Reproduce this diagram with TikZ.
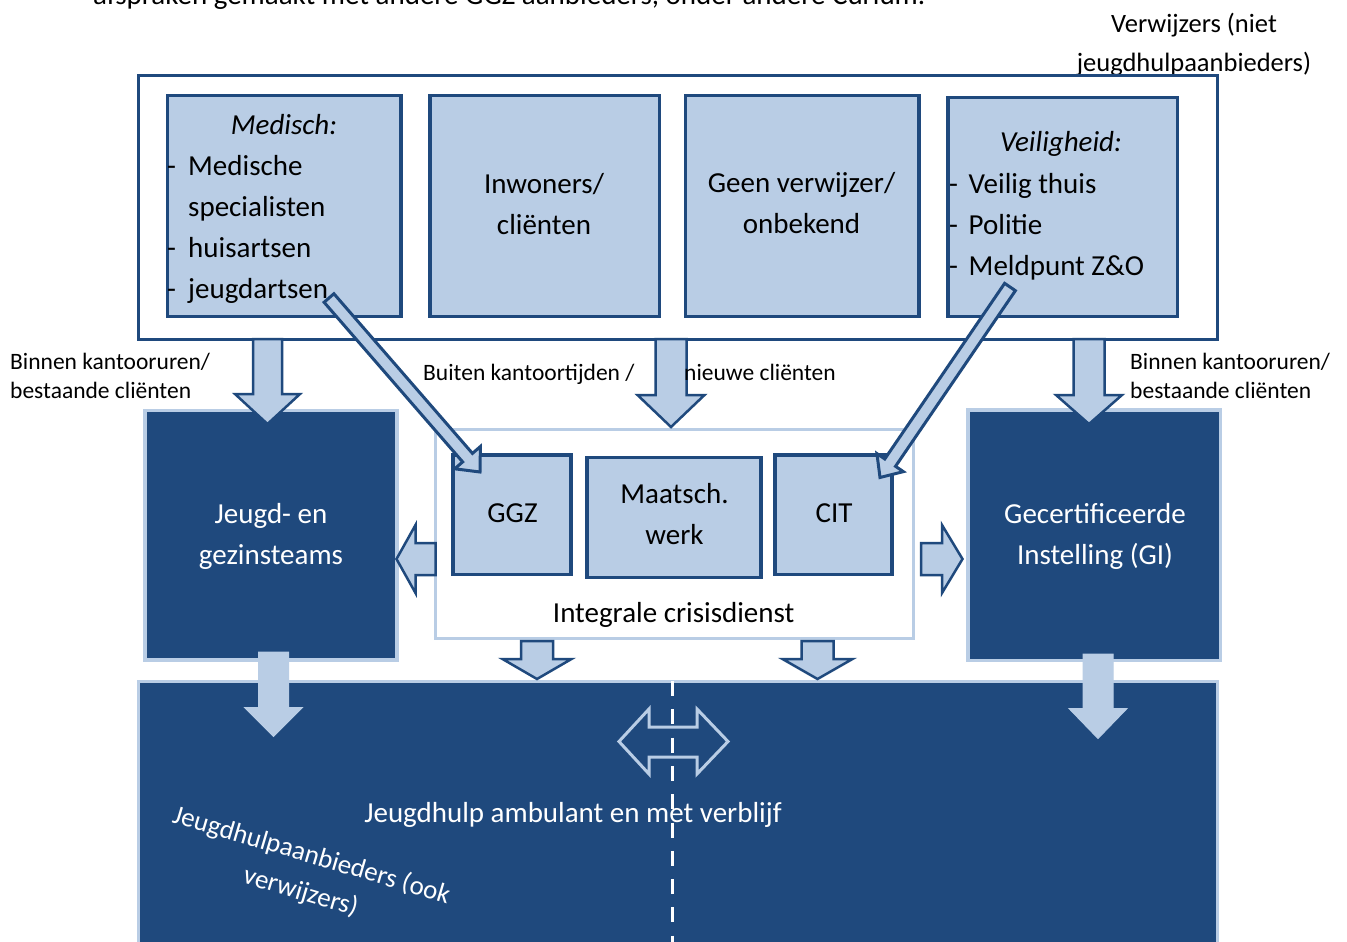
\documentclass[tikz,border=0pt]{standalone}
\usepackage{fontspec}
\setmainfont{Carlito}
\usetikzlibrary{calc}
\definecolor{dkb}{HTML}{1F497D}
\definecolor{ltb}{HTML}{B9CDE5}
% block arrow: #1 style, #2 start, #3 tip, #4 shaft half width, #5 head half width, #6 head length
\newcommand\blkarrow[6]{%
  \coordinate (hb) at ($(#3)!#6!(#2)$);
  \draw[#1] ($(#2)!#4!90:(#3)$) -- ($(hb)!#4!90:(#3)$) -- ($(hb)!#5!90:(#3)$) -- (#3)
    -- ($(hb)!#5!-90:(#3)$) -- ($(hb)!#4!-90:(#3)$) -- ($(#2)!#4!-90:(#3)$) -- cycle;
}
\tikzset{
  lightbox/.style={draw=dkb, fill=ltb, line width=3.5pt, inner sep=0pt},
  darkbox/.style={draw=ltb, fill=dkb, line width=3.5pt, inner sep=0pt},
  frame/.style={draw=dkb, fill=white, line width=3pt, inner sep=0pt},
  crisisframe/.style={draw=ltb, fill=white, line width=3pt, inner sep=0pt},
  blk/.style={fill=ltb, draw=dkb, line width=2.5pt, line join=miter},
  blkflat/.style={fill=ltb, draw=ltb, line width=1pt, line join=miter},
  diag/.style={fill=ltb, draw=dkb, line width=3pt, line join=miter},
  big/.style={font=\fontsize{29}{41}\selectfont, inner sep=0pt, anchor=base},
  bigw/.style={big, text=white},
  small/.style={font=\fontsize{23.5}{29}\selectfont, inner sep=0pt, anchor=base west},
  mid/.style={font=\fontsize{26.5}{38}\selectfont, inner sep=0pt, anchor=base},
}
\begin{document}
\begin{tikzpicture}[x=1pt,y=-1pt]
\useasboundingbox (0,0) rectangle (1347,942);
\clip (0,0) rectangle (1347,942);
\fill[white] (0,0) rectangle (1347,942);

% cut-off text at top
\node[big, anchor=base west] (toptxt) at (93,4.5) {afspraken gemaakt met andere GGZ aanbieders, onder andere Curium.};

% referrers label
\node[mid] (verw1) at (1194,33) {Verwijzers (niet};
\node[mid] (verw2) at (1194,71.5) {jeugdhulpaanbieders)};

% top frame and boxes
\node[frame, minimum width=1079.5pt, minimum height=263.5pt] (top) at (677.75,207.25) {};
\node[lightbox, minimum width=233.5pt, minimum height=221pt] (med) at (284.25,206) {};
\node[lightbox, minimum width=229.5pt, minimum height=221pt] (inw) at (544.5,206) {};
\node[lightbox, minimum width=233.5pt, minimum height=221pt] (geen) at (802.25,206) {};
\node[lightbox, minimum width=229.5pt, minimum height=219pt] (veil) at (1062.5,207) {};

% crisis frame and boxes
\node[crisisframe, minimum width=478pt, minimum height=209pt] (crisis) at (674,534) {};
\node[lightbox, minimum width=118pt, minimum height=119.5pt] (ggz) at (511.75,514.5) {};
\node[lightbox, minimum width=173.75pt, minimum height=119.75pt] (maat) at (674.1,517.4) {};
\node[lightbox, minimum width=117pt, minimum height=119.5pt] (cit) at (833.7,514.5) {};

% dark boxes
\node[darkbox, minimum width=252.2pt, minimum height=249.7pt] (jgt) at (270.9,535.1) {};
\node[darkbox, minimum width=252.5pt, minimum height=250.5pt] (gi) at (1094,535) {};
\node[darkbox, line width=3pt, minimum width=1078.7pt, minimum height=278.5pt] (bot) at (677.85,820.75) {};

% arrow coordinates
\coordinate (a1s) at (267.5,339); \coordinate (a1t) at (267.5,424);
\coordinate (a2s) at (671,339);   \coordinate (a2t) at (671,427);
\coordinate (a3s) at (1089,339);  \coordinate (a3t) at (1089,424);
\coordinate (a4s) at (435.5,559); \coordinate (a4t) at (396.5,559);
\coordinate (a5s) at (921,559);   \coordinate (a5t) at (962.5,559);
\coordinate (a6s) at (537,641);   \coordinate (a6t) at (537,679);
\coordinate (a7s) at (817.5,641); \coordinate (a7t) at (817.5,679);
\coordinate (a8s) at (273.5,652); \coordinate (a8t) at (273.5,736.5);
\coordinate (a9s) at (1098,654);  \coordinate (a9t) at (1098,738.5);
\coordinate (d1s) at (329,298);   \coordinate (d1t) at (480,472);
\coordinate (d2s) at (1010,287);  \coordinate (d2t) at (880,477.5);

\blkarrow{blk}{a1s}{a1t}{14.5pt}{32.5pt}{30pt}
\blkarrow{blk}{a2s}{a2t}{15.5pt}{33.5pt}{32pt}
\blkarrow{blk}{a3s}{a3t}{15.5pt}{33pt}{29pt}
\blkarrow{blk}{a4s}{a4t}{16pt}{34pt}{19pt}
\blkarrow{blk}{a5s}{a5t}{16pt}{34pt}{20.5pt}
\blkarrow{blk}{a6s}{a6t}{16pt}{34.5pt}{20pt}
\blkarrow{blk}{a7s}{a7t}{16pt}{35pt}{20pt}
\blkarrow{blkflat}{a8s}{a8t}{15pt}{29pt}{29pt}
\blkarrow{blkflat}{a9s}{a9t}{15pt}{29pt}{30pt}

% double arrow in bottom box
\draw[draw=ltb, fill=dkb, line width=3pt, line join=miter]
  (619,741.5) -- (649,709) -- (649,727) -- (697,727) -- (697,709) -- (728,741.5)
  -- (697,774) -- (697,757) -- (649,757) -- (649,774) -- cycle;
\coordinate (dtop) at (672,681);
\coordinate (dbot) at (672,950);
\draw[white, line width=3pt, dash pattern=on 15pt off 13.3pt] (dtop) -- (dbot);

% diagonal arrows
\blkarrow{diag}{d1s}{d1t}{6.5pt}{17pt}{19pt}
\blkarrow{diag}{d2s}{d2t}{6.5pt}{16pt}{18pt}

% texts in top boxes
\node[big] (med0) at (284,134) {\itshape Medisch:};
\node[big, anchor=base west] (med1d) at (167,175) {-};
\node[big, anchor=base west] (med1) at (188,175) {Medische};
\node[big, anchor=base west] (med2) at (188,216) {specialisten};
\node[big, anchor=base west] (med3d) at (167,257) {-};
\node[big, anchor=base west] (med3) at (188,257) {huisartsen};
\node[big, anchor=base west] (med4d) at (167,298) {-};
\node[big, anchor=base west] (med4) at (188,298) {jeugdartsen};

\node[big] (inw1) at (544,193) {Inwoners/};
\node[big] (inw2) at (544,234) {cliënten};
\node[big] (geen1) at (801.5,192) {Geen verwijzer/};
\node[big] (geen2) at (801.5,233) {onbekend};

\node[big] (veil0) at (1061,151) {\itshape Veiligheid:};
\node[big, anchor=base west] (veil1d) at (949,193) {-};
\node[big, anchor=base west] (veil1) at (968.5,193) {Veilig thuis};
\node[big, anchor=base west] (veil2d) at (949,234) {-};
\node[big, anchor=base west] (veil2) at (968.5,234) {Politie};
\node[big, anchor=base west] (veil3d) at (949,275) {-};
\node[big, anchor=base west] (veil3) at (968.5,275) {Meldpunt Z\&O};

% labels between rows
\node[small] (lb1) at (10,369) {Binnen kantooruren/};
\node[small] (lb2) at (10,398) {bestaande cliënten};
\node[small] (cb1) at (423,380) {Buiten kantoortijden /};
\node[small] (cb2) at (684,380) {nieuwe cliënten};
\node[small] (rb1) at (1130,369) {Binnen kantooruren/};
\node[small] (rb2) at (1130,398) {bestaande cliënten};

% crisis texts
\node[big] (ggzt) at (512.5,522) {GGZ};
\node[big] (maat1) at (674.5,503.5) {Maatsch.};
\node[big] (maat2) at (674.5,544) {werk};
\node[big] (citt) at (834,522) {CIT};
\node[big] (crt) at (673.7,622) {Integrale crisisdienst};

% dark box texts
\node[bigw] (jgt1) at (271,523) {Jeugd- en};
\node[bigw] (jgt2) at (271,564.5) {gezinsteams};
\node[bigw] (gi1) at (1095,523) {Gecertificeerde};
\node[bigw] (gi2) at (1095,564.5) {Instelling (GI)};

% bottom texts
\node[bigw] (bott) at (573,822.5) {Jeugdhulp ambulant en met verblijf};
\node[text=white, font=\fontsize{27}{38}\selectfont, align=center, inner sep=0pt, rotate=-16.5] (rot) at (306,874) {Jeugdhulpaanbieders (ook\\verwijzers)};
\end{tikzpicture}
\end{document}
